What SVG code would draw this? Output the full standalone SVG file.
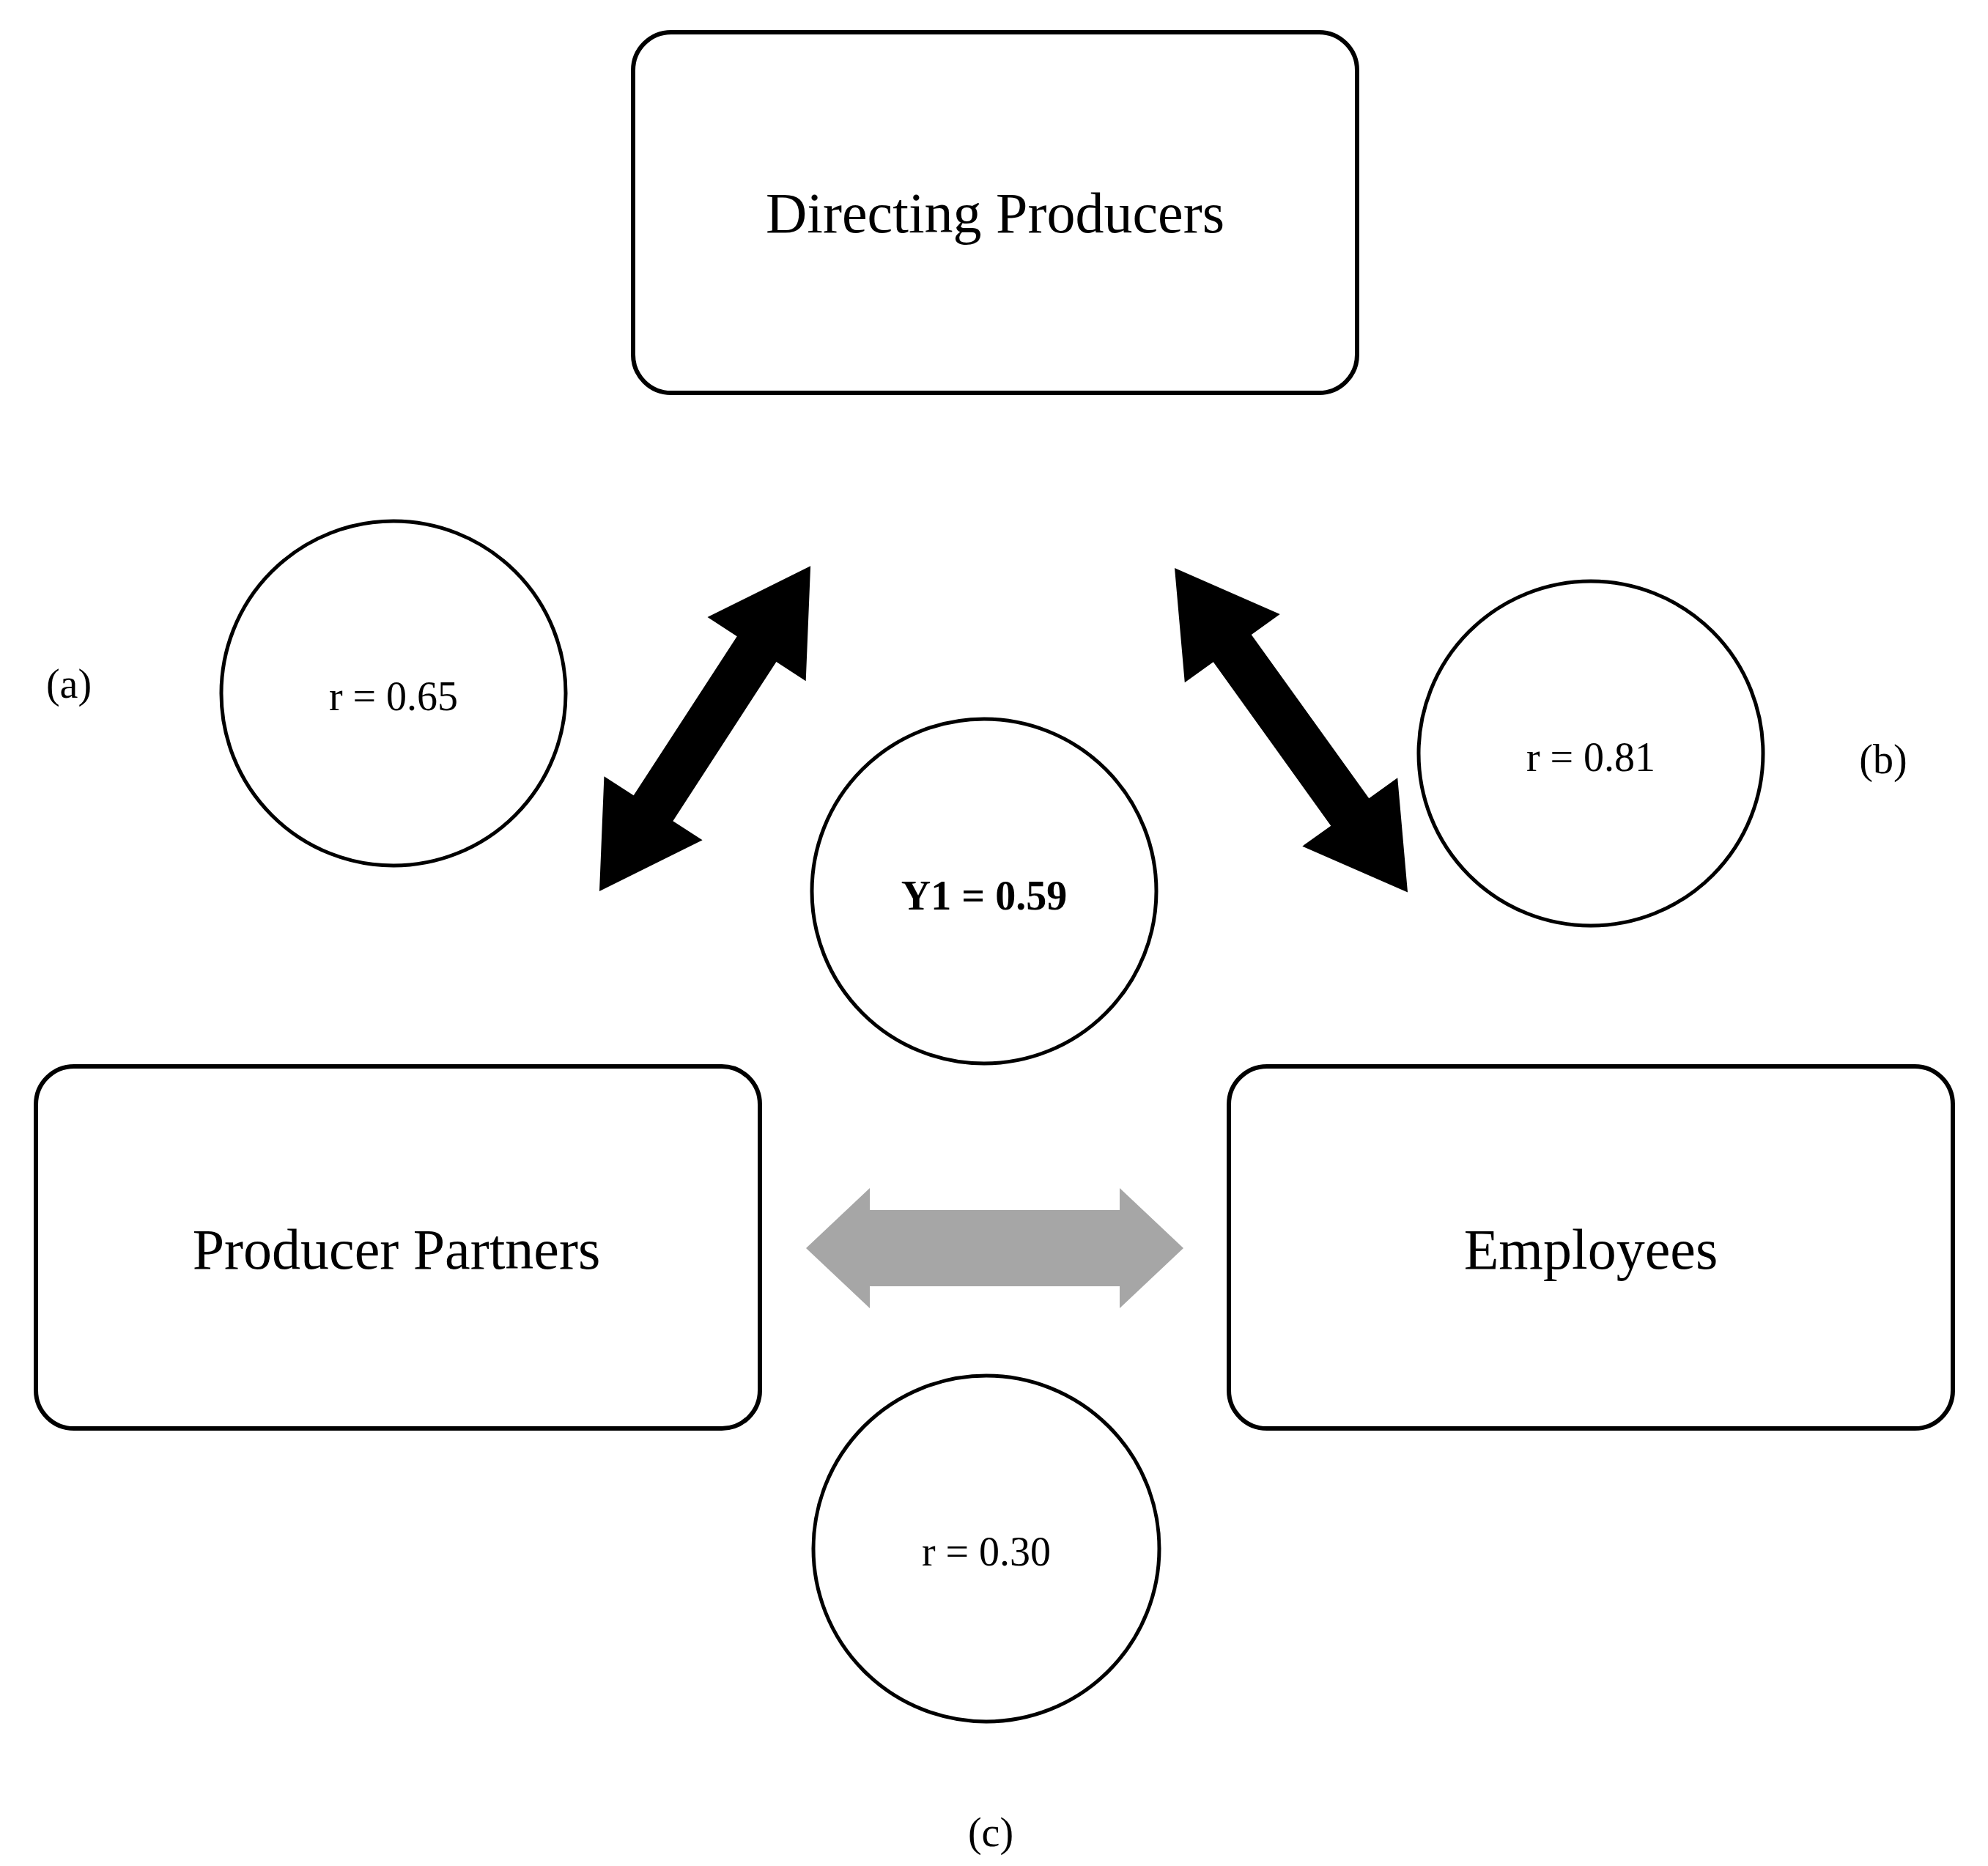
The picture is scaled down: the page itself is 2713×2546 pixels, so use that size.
<svg xmlns="http://www.w3.org/2000/svg" width="2713" height="2546" viewBox="0 0 2713 2546">
<style>
.box{fill:#fff;stroke:#000;stroke-width:6}
.c{fill:#fff;stroke:#000;stroke-width:5}
.t{font-family:"Liberation Serif",serif;text-anchor:middle;dominant-baseline:central;fill:#000}
.big{font-size:78px}
.sm{font-size:56px}
</style>
<rect width="2713" height="2546" fill="#fff"/>
<g id="directing"><rect class="box" x="864" y="44" width="988" height="492" rx="52"/><text class="t big" x="1358" y="290">Directing Producers</text></g>
<g id="partners"><rect class="box" x="49" y="1455" width="988" height="494" rx="52"/><text class="t big" x="541" y="1704">Producer Partners</text></g>
<g id="employees"><rect class="box" x="1677" y="1455" width="988" height="494" rx="52"/><text class="t big" x="2171" y="1704">Employees</text></g>
<g id="ca"><circle class="c" cx="537" cy="946" r="235"/><text class="t sm" x="537" y="950">r = 0.65</text></g>
<g id="cy"><circle class="c" cx="1343" cy="1216" r="235"/><text class="t sm" x="1343" y="1222" font-weight="bold">Y1 = 0.59</text></g>
<g id="cb"><circle class="c" cx="2171" cy="1028" r="235"/><text class="t sm" x="2171" y="1033">r = 0.81</text></g>
<g id="cc"><circle class="c" cx="1346" cy="2113" r="236"/><text class="t sm" x="1346" y="2117">r = 0.30</text></g>
<g id="labels">
<text class="t sm" x="94" y="933">(a)</text>
<text class="t sm" x="2570" y="1036">(b)</text>
<text class="t sm" x="1352" y="2500">(c)</text>
</g>
<g id="connectors">
<polygon fill="#000" transform="translate(818,1216) rotate(-57)" points="0,0 135,-80 135,-32 394,-32 394,-80 529,0 394,80 394,32 135,32 135,80"/>
<polygon fill="#000" transform="translate(1603,775) rotate(54.3)" points="0,0 135,-80 135,-32 410,-32 410,-80 545,0 410,80 410,32 135,32 135,80"/>
<polygon fill="#a6a6a6" transform="translate(1100,1703)" points="0,0 87,-82 87,-52 428,-52 428,-82 515,0 428,82 428,52 87,52 87,82"/>
</g>
</svg>
